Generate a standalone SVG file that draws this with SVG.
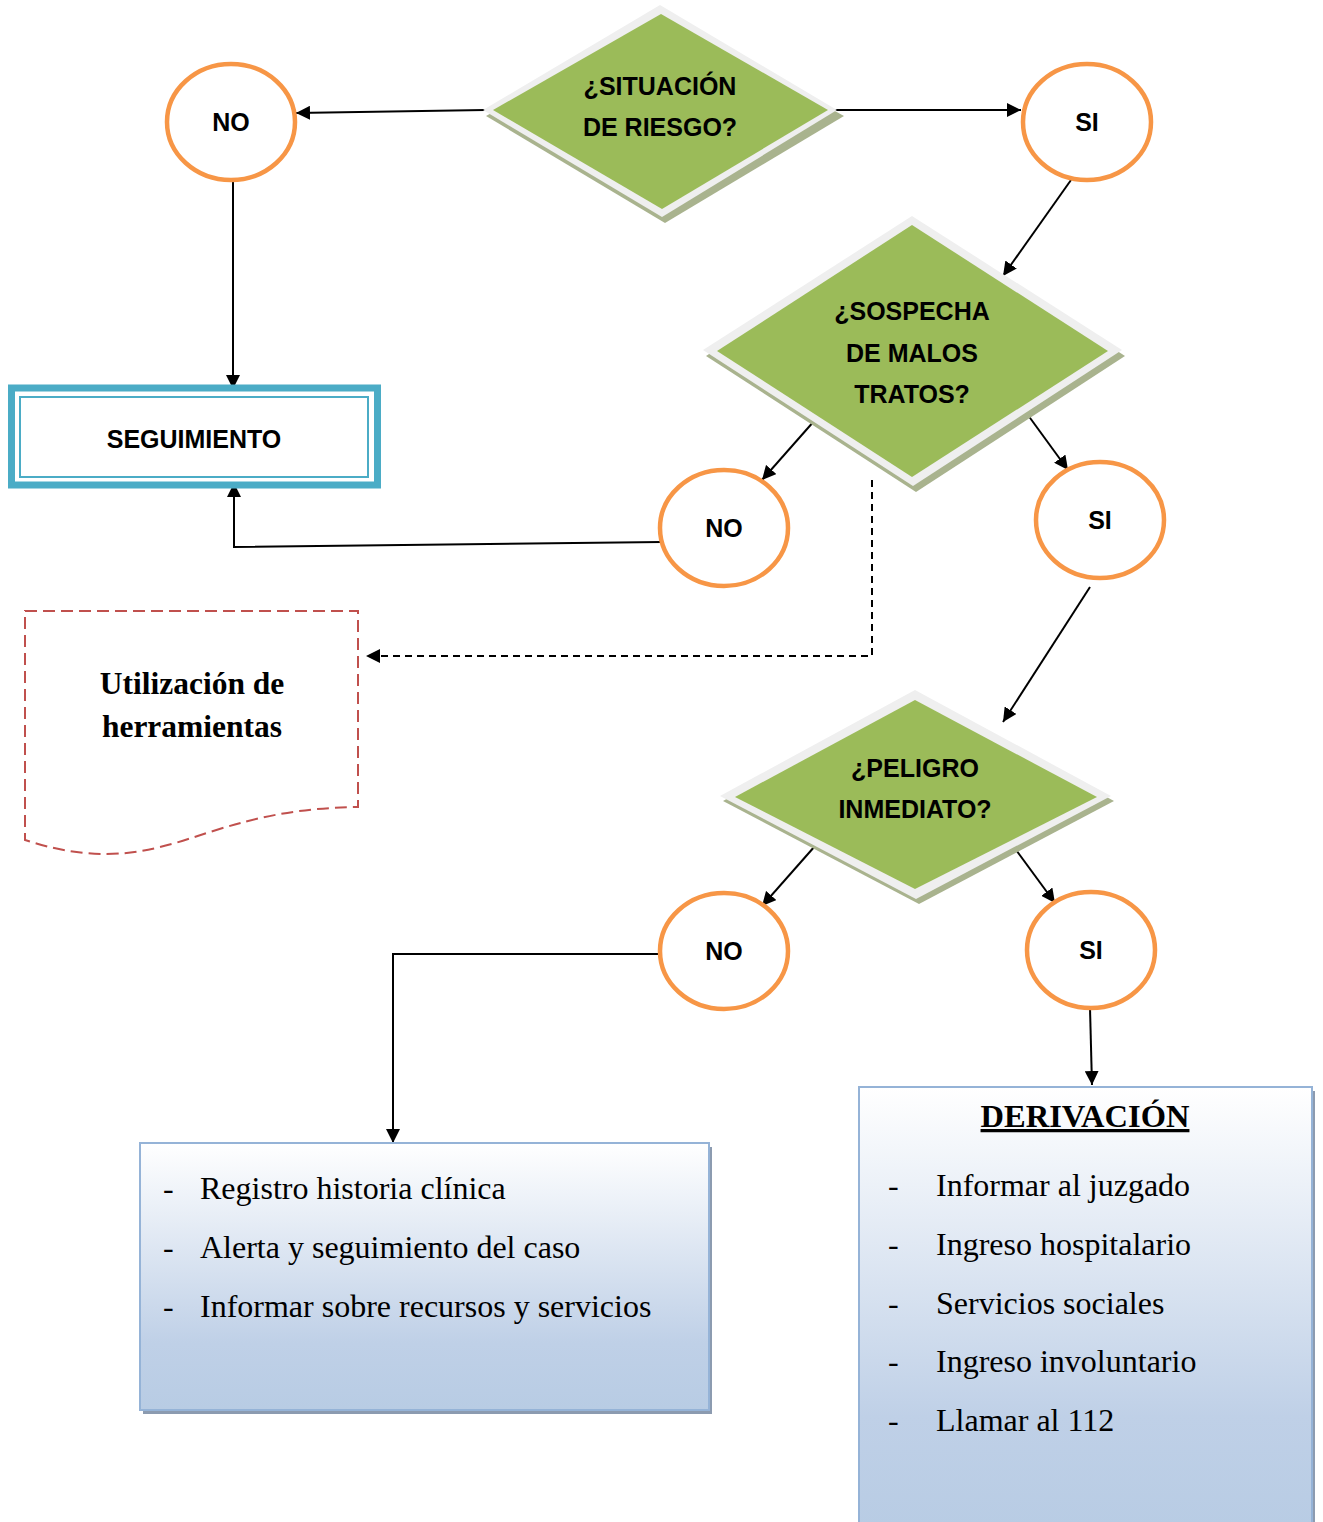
<svg xmlns="http://www.w3.org/2000/svg" width="1323" height="1522" viewBox="0 0 1323 1522">
<defs>
<linearGradient id="blueGrad" x1="0" y1="0" x2="0" y2="1">
<stop offset="0" stop-color="#ffffff"/>
<stop offset="0.75" stop-color="#bfd0e7"/>
<stop offset="1" stop-color="#b8cce4"/>
</linearGradient>
<marker id="arr" viewBox="0 0 10 10" refX="10" refY="5" markerWidth="14" markerHeight="14" markerUnits="userSpaceOnUse" orient="auto">
<path d="M0,0 L10,5 L0,10 Z" fill="#000"/>
</marker>
</defs>
<style>
.shadow{fill:#a9b38e}
.rim{fill:#efefef}
.green{fill:#9bbb59}
.circ{fill:#fff;stroke:#f79646;stroke-width:4.5}
.lbl{font-family:"Liberation Sans",Arial,sans-serif;font-weight:bold;font-size:25px;fill:#000;text-anchor:middle}
.conn{fill:none;stroke:#000;stroke-width:2;marker-end:url(#arr)}
.dash{fill:none;stroke:#000;stroke-width:2;stroke-dasharray:7,5;marker-end:url(#arr)}
.item{font-family:"Liberation Serif","Times New Roman",serif;font-size:32px;fill:#000}
.bold-serif{font-family:"Liberation Serif","Times New Roman",serif;font-weight:bold;text-anchor:middle;fill:#000}
.bbox{fill:url(#blueGrad);stroke:#95b3d7;stroke-width:2}
.bshadow{fill:#8c9bb0}
</style>
<rect width="1323" height="1522" fill="#fff"/>

<g id="connectors">
<line class="conn" x1="485" y1="110" x2="296" y2="113"/>
<line class="conn" x1="835" y1="110" x2="1021" y2="110"/>
<line class="conn" x1="233" y1="181" x2="233" y2="389"/>
<line class="conn" x1="1071" y1="180" x2="1003" y2="276"/>
<line class="conn" x1="815" y1="420" x2="762" y2="480"/>
<line class="conn" x1="1025" y1="411" x2="1068" y2="470"/>
<polyline class="conn" points="662,542 234,547 234,483"/>
<line class="conn" x1="1090" y1="587" x2="1003" y2="722"/>
<line class="conn" x1="815" y1="846" x2="762" y2="906"/>
<line class="conn" x1="1011" y1="843" x2="1055" y2="903"/>
<polyline class="conn" points="662,954 393,954 393,1143"/>
<line class="conn" x1="1090" y1="1008" x2="1092" y2="1085"/>
<polyline class="dash" points="872,480 872,656 366,656"/>
</g>

<g id="d1">
<polygon class="shadow" points="664,18 844,116 665,223 486,116"/>
<polygon class="rim" points="660,5 837,110 662,217 483,110"/>
<polygon class="green" points="661,14 828,110 662,209 493,110"/>
<text class="lbl" x="660" y="95">¿SITUACIÓN</text>
<text class="lbl" x="660" y="136">DE RIESGO?</text>
</g>

<g id="d2">
<polygon class="shadow" points="915,220 1125,356 916,492 706,356"/>
<polygon class="rim" points="912,216 1122,350 913,486 703,350"/>
<polygon class="green" points="912,225 1108,351 912,477 717,351"/>
<text class="lbl" x="912" y="320">¿SOSPECHA</text>
<text class="lbl" x="912" y="362">DE MALOS</text>
<text class="lbl" x="912" y="403">TRATOS?</text>
</g>

<g id="d3">
<polygon class="shadow" points="918,694 1114,801 919,904 723,801"/>
<polygon class="rim" points="915,690 1111,796 916,899 720,796"/>
<polygon class="green" points="915,700 1097,797 915,889 735,797"/>
<text class="lbl" x="915" y="777">¿PELIGRO</text>
<text class="lbl" x="915" y="818">INMEDIATO?</text>
</g>

<g id="no1">
<ellipse class="circ" cx="231" cy="122" rx="64" ry="58"/>
<text class="lbl" x="231" y="131">NO</text>
</g>
<g id="si1">
<ellipse class="circ" cx="1087" cy="122" rx="64" ry="58"/>
<text class="lbl" x="1087" y="131">SI</text>
</g>
<g id="no2">
<ellipse class="circ" cx="724" cy="528" rx="64" ry="58"/>
<text class="lbl" x="724" y="537">NO</text>
</g>
<g id="si2">
<ellipse class="circ" cx="1100" cy="520" rx="64" ry="58"/>
<text class="lbl" x="1100" y="529">SI</text>
</g>
<g id="no3">
<ellipse class="circ" cx="724" cy="951" rx="64" ry="58"/>
<text class="lbl" x="724" y="960">NO</text>
</g>
<g id="si3">
<ellipse class="circ" cx="1091" cy="950" rx="64" ry="58"/>
<text class="lbl" x="1091" y="959">SI</text>
</g>

<g id="seguimiento">
<rect x="11.5" y="388" width="366" height="97" fill="#fff" stroke="#4bacc6" stroke-width="7"/>
<rect x="20" y="397" width="348" height="80" fill="none" stroke="#4bacc6" stroke-width="2"/>
<text class="lbl" x="194" y="448" font-size="26">SEGUIMIENTO</text>
</g>

<g id="herramientas">
<path d="M25,611 H358 V807 C300,808 260,816 210,832 C160,848 110,868 25,840 Z" fill="#fff" stroke="#c0504d" stroke-width="2" stroke-dasharray="12,6"/>
<text class="bold-serif" font-size="31.5" x="192" y="694">Utilización de</text>
<text class="bold-serif" font-size="31.5" x="192" y="737">herramientas</text>
</g>

<g id="acciones">
<rect class="bshadow" x="143" y="1147" width="569" height="267"/>
<rect class="bbox" x="140" y="1143" width="569" height="267"/>
<text class="item" x="163" y="1199">-</text>
<text class="item" x="200" y="1199">Registro historia clínica</text>
<text class="item" x="163" y="1258">-</text>
<text class="item" x="200" y="1258">Alerta y seguimiento del caso</text>
<text class="item" x="163" y="1317">-</text>
<text class="item" x="200" y="1317">Informar sobre recursos y servicios</text>
</g>

<g id="derivacion">
<rect class="bshadow" x="862" y="1091" width="453" height="440"/>
<rect class="bbox" x="859" y="1087" width="453" height="440"/>
<text class="bold-serif" font-size="32.5" x="1085" y="1127" text-decoration="underline">DERIVACIÓN</text>
<text class="item" x="888" y="1196">-</text>
<text class="item" x="936" y="1196">Informar al juzgado</text>
<text class="item" x="888" y="1255">-</text>
<text class="item" x="936" y="1255">Ingreso hospitalario</text>
<text class="item" x="888" y="1314">-</text>
<text class="item" x="936" y="1314">Servicios sociales</text>
<text class="item" x="888" y="1372">-</text>
<text class="item" x="936" y="1372">Ingreso involuntario</text>
<text class="item" x="888" y="1431">-</text>
<text class="item" x="936" y="1431">Llamar al 112</text>
</g>
</svg>
